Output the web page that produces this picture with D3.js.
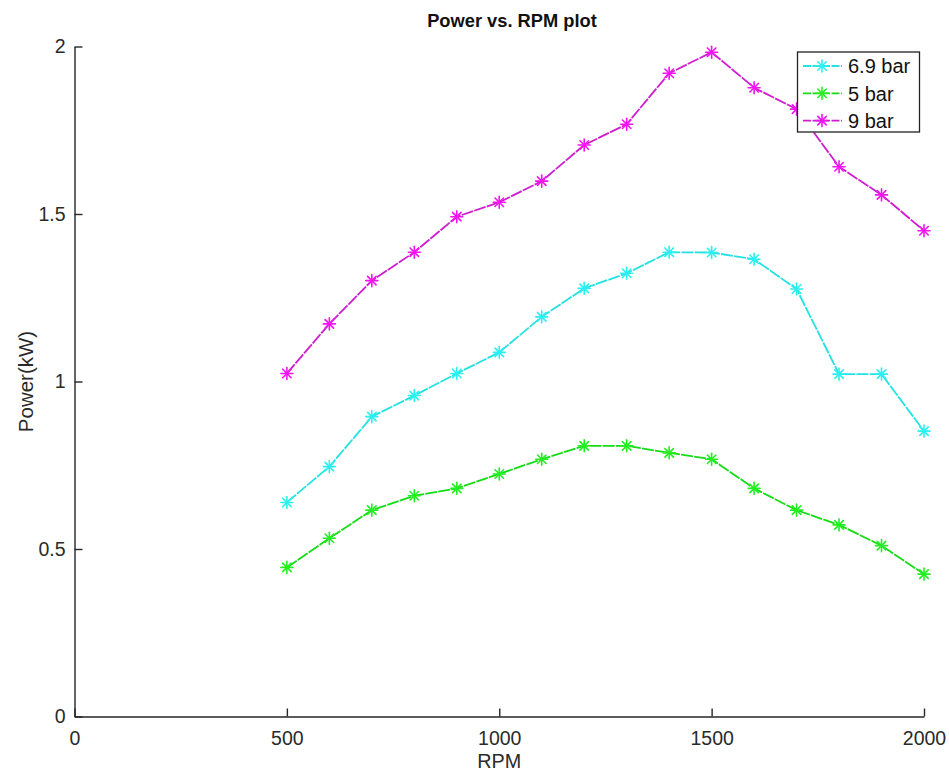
<!DOCTYPE html>
<html>
<head>
<meta charset="utf-8">
<script src="https://cdn.jsdelivr.net/npm/d3@7/dist/d3.min.js"></script>
<style>
  html, body { margin: 0; padding: 0; background: #fff; }
  svg { display: block; font-family: "Liberation Sans", Arial, Helvetica, sans-serif; }
</style>
</head>
<body>
<svg id="chart" width="949" height="772"></svg>
<script>
// Engine speed (RPM) and measured power (kW) at three supply pressures
const rpm = [500, 600, 700, 800, 900, 1000, 1100, 1200, 1300, 1400, 1500, 1600, 1700, 1800, 1900, 2000];
const power69 = [0.639, 0.746, 0.895, 0.958, 1.024, 1.087, 1.193, 1.278, 1.323, 1.386, 1.385, 1.365, 1.276, 1.022, 1.022, 0.852];
const power5  = [0.445, 0.532, 0.616, 0.659, 0.681, 0.724, 0.768, 0.808, 0.808, 0.787, 0.768, 0.681, 0.616, 0.572, 0.510, 0.425];
const power9  = [1.024, 1.172, 1.301, 1.386, 1.492, 1.535, 1.598, 1.706, 1.768, 1.920, 1.983, 1.877, 1.813, 1.641, 1.557, 1.450];
const seriesNames = ["6.9 bar", "5 bar", "9 bar"];
const xTicks = [0, 500, 1000, 1500, 2000];
const yTicks = [0, 0.5, 1, 1.5, 2];

const series = [
  { name: seriesNames[0], values: power69, line: "#22e2e2", mark: "#2af0f0" },
  { name: seriesNames[1], values: power5,  line: "#16dc16", mark: "#22ee22" },
  { name: seriesNames[2], values: power9,  line: "#d01cd0", mark: "#f014f0" }
];

const svg = d3.select("#chart");
const plotLeft = 74.5, plotRight = 924, plotTop = 46.5, plotBottom = 716.5;

const x = d3.scaleLinear().domain([0, 2000]).range([plotLeft, plotRight]);
const y = d3.scaleLinear().domain([0, 2]).range([plotBottom, plotTop]);

// Axes with inward ticks
const xAxis = d3.axisBottom(x).tickValues(xTicks).tickSizeInner(-8).tickSizeOuter(0).tickPadding(15)
  .tickFormat(d3.format("d"));
const yAxis = d3.axisLeft(y).tickValues(yTicks).tickSizeInner(-8).tickSizeOuter(0).tickPadding(9)
  .tickFormat(d => d3.format("~g")(d));

const gx = svg.append("g").attr("transform", `translate(0,${plotBottom})`).call(xAxis);
const gy = svg.append("g").attr("transform", `translate(${plotLeft},0)`).call(yAxis);
[gx, gy].forEach(g => {
  g.select(".domain").attr("stroke", "#262626").attr("stroke-width", 1.4);
  g.selectAll(".tick line").attr("stroke", "#262626").attr("stroke-width", 1.4);
  g.selectAll(".tick text").attr("fill", "#2a2a2a").style("font-size", "19.5px")
    .style("font-family", "'Liberation Sans', Arial, sans-serif");
});
gx.selectAll(".tick text").attr("dy", "0.71em");

// Axis titles and plot title
svg.append("text").attr("x", 512).attr("y", 27)
  .attr("text-anchor", "middle").attr("font-weight", "bold").attr("font-size", 18.3)
  .attr("fill", "#111").text("Power vs. RPM plot");
svg.append("text").attr("x", (plotLeft + plotRight) / 2).attr("y", 768)
  .attr("text-anchor", "middle").attr("font-size", 19.8).attr("fill", "#2a2a2a").text("RPM");
svg.append("text").attr("transform", `translate(33,${(plotTop + plotBottom) / 2}) rotate(-90)`)
  .attr("text-anchor", "middle").attr("font-size", 20.5).attr("fill", "#2a2a2a").text("Power(kW)");

// Asterisk marker: four crossing strokes
function asterisk(g, cx, cy, r, color) {
  const m = g.append("g").attr("transform", `translate(${cx},${cy})`)
    .attr("stroke", color).attr("stroke-width", 1.6).attr("stroke-linecap", "round");
  [0, 45, 90, 135].forEach(a => {
    const rad = a * Math.PI / 180;
    m.append("line")
      .attr("x1", -r * Math.cos(rad)).attr("y1", -r * Math.sin(rad))
      .attr("x2", r * Math.cos(rad)).attr("y2", r * Math.sin(rad));
  });
}

const line = d3.line().x((d, i) => x(rpm[i])).y(d => y(d));
const plot = svg.append("g");
series.forEach(s => {
  plot.append("path").datum(s.values).attr("d", line)
    .attr("fill", "none").attr("stroke", s.line).attr("stroke-width", 1.8)
    .attr("stroke-dasharray", "12 1.2");
  s.values.forEach((v, i) => asterisk(plot, x(rpm[i]), y(v), 6, s.mark));
});

// Legend
const lg = svg.append("g");
lg.append("rect").attr("x", 797.5).attr("y", 52).attr("width", 122).attr("height", 80)
  .attr("fill", "#fff").attr("stroke", "#222").attr("stroke-width", 1.3);
series.forEach((s, i) => {
  const ly = 66 + i * 27.3;
  lg.append("line").attr("x1", 803).attr("x2", 842).attr("y1", ly).attr("y2", ly)
    .attr("stroke", s.line).attr("stroke-width", 1.8).attr("stroke-dasharray", "8 1.5");
  asterisk(lg, 822, ly, 6, s.mark);
  lg.append("text").attr("x", 848).attr("y", ly).attr("dy", "0.36em")
    .attr("font-size", 20).attr("fill", "#111").text(s.name);
});
</script>
</body>
</html>
